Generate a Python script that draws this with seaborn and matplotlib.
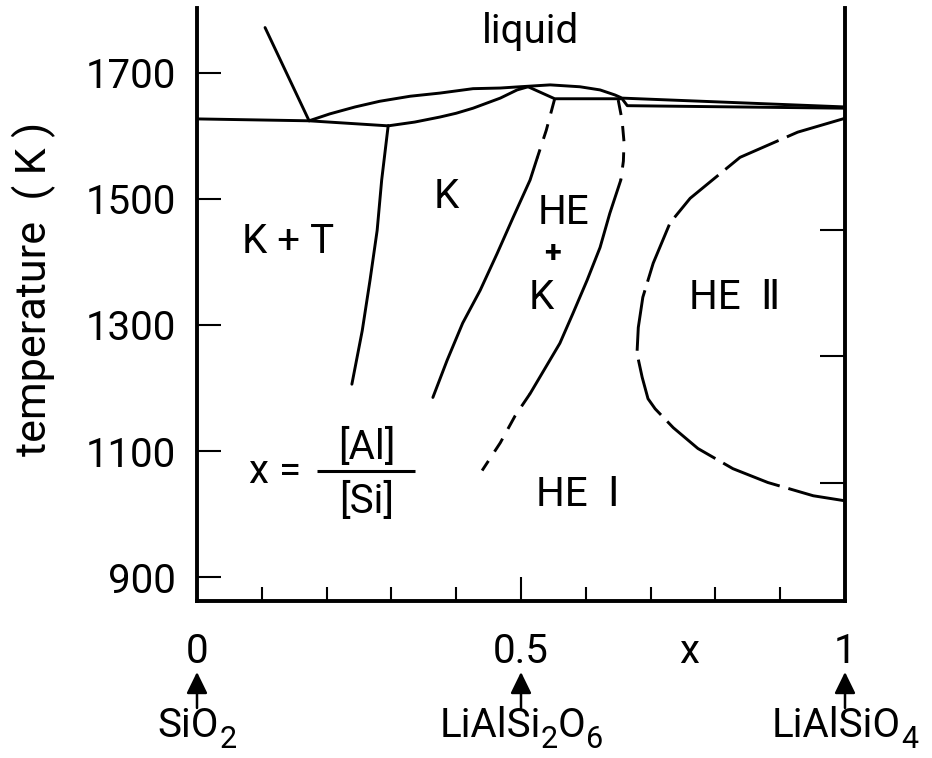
import matplotlib
matplotlib.use("Agg")
import matplotlib.pyplot as plt
from matplotlib.ticker import FixedLocator
from matplotlib.transforms import offset_copy
import pandas as pd
import seaborn as sns

# ---- phase boundaries: composition x = [Al]/[Si], temperature T in K ----
liq_left_x = [0.105, 0.173]
liq_left_t = [1772, 1624]

sol_left_x = [0.0, 0.173, 0.295]
sol_left_t = [1627, 1624, 1616]

liquidus_x = [0.173, 0.205, 0.244, 0.282, 0.329, 0.375, 0.426, 0.468, 0.498,
              0.545, 0.591, 0.622, 0.645, 0.656, 1.0]
liquidus_t = [1624, 1635, 1646, 1655, 1663, 1668, 1675, 1676, 1678,
              1681, 1678, 1673, 1665, 1660, 1646]

k_solidus_x = [0.295, 0.336, 0.375, 0.400, 0.426, 0.468, 0.494, 0.511]
k_solidus_t = [1616, 1622, 1630, 1636, 1644, 1660, 1673, 1678]

peritectic_x = [0.511, 0.552, 0.656, 0.664, 1.0]
peritectic_t = [1678, 1659, 1659, 1648, 1644]

k_kt_x = [0.295, 0.285, 0.278, 0.267, 0.255, 0.239]
k_kt_t = [1616, 1530, 1450, 1371, 1291, 1206]

k_hek_dash_x = [0.552, 0.539, 0.525]
k_hek_dash_t = [1659, 1609, 1565]
k_hek_x = [0.525, 0.514, 0.488, 0.463, 0.437, 0.410, 0.386, 0.364]
k_hek_t = [1565, 1530, 1471, 1413, 1355, 1303, 1244, 1185]

hek_he_top_x = [0.650, 0.656, 0.659, 0.658, 0.654]
hek_he_top_t = [1657, 1625, 1590, 1560, 1530]
hek_he_x = [0.654, 0.637, 0.622, 0.602, 0.580, 0.560, 0.537, 0.514]
hek_he_t = [1530, 1477, 1423, 1371, 1318, 1271, 1231, 1191]
hek_he_low_x = [0.514, 0.491, 0.468, 0.440]
hek_he_low_t = [1191, 1156, 1113, 1069]

he2_x = [1.0, 0.927, 0.838, 0.761, 0.730, 0.704, 0.688, 0.681, 0.679,
         0.687, 0.696, 0.707, 0.735, 0.773, 0.827, 0.881, 0.951, 1.0]
he2_t = [1628, 1606, 1566, 1501, 1462, 1398, 1344, 1296, 1255,
         1217, 1183, 1167, 1137, 1104, 1072, 1050, 1029, 1021]

y_ticks = [900, 1100, 1300, 1500, 1700]
y_ticks_right = [1050, 1250, 1450]
x_ticks = [0, 0.5, 1]
x_tick_labels = ["0", "0.5", "1"]
x_minor = [0.1, 0.2, 0.3, 0.4, 0.6, 0.7, 0.8, 0.9]
# chemical formulas as (text, is_subscript) pieces
compounds = [
    [("SiO", False), ("2", True)],
    [("LiAlSi", False), ("2", True), ("O", False), ("6", True)],
    [("LiAlSiO", False), ("4", True)],
]

# ---- style ----
sns.set_theme(style="white")
plt.rcParams["font.family"] = ["Roboto", "DejaVu Sans"]
plt.rcParams["lines.scale_dashes"] = False
FS = 29
SUB_FS = 22
SUB_DROP = 11  # pixels

fig = plt.figure(figsize=(9.32, 7.58), dpi=100)
ax = fig.add_axes([197 / 932, 1 - 601 / 758, 648 / 932, 593 / 758])


def boundary(x, t, dashes=None):
    df = pd.DataFrame({"x": x, "T": t})
    sns.lineplot(data=df, x="x", y="T", sort=False, estimator=None,
                 color="black", lw=2.1, ax=ax)
    ln = ax.lines[-1]
    ln.set_solid_capstyle("round")
    ln.set_solid_joinstyle("round")
    if dashes is not None:
        ln.set_dashes(dashes)
        ln.set_dash_capstyle("butt")


SHORT = (11, 8)
LONG = (44, 6.5)

boundary(liq_left_x, liq_left_t)
boundary(sol_left_x, sol_left_t)
boundary(liquidus_x, liquidus_t)
boundary(k_solidus_x, k_solidus_t)
boundary(peritectic_x, peritectic_t)
boundary(k_kt_x, k_kt_t)
boundary(k_hek_dash_x, k_hek_dash_t, SHORT)
boundary(k_hek_x, k_hek_t)
boundary(hek_he_top_x, hek_he_top_t, SHORT)
boundary(hek_he_x, hek_he_t)
boundary(hek_he_low_x, hek_he_low_t, SHORT)
boundary(he2_x, he2_t, LONG)

# ---- axes ----
ax.set_xlim(0, 1)
ax.set_ylim(862, 1803)
ax.set_xlabel("")
ax.set_xticks(x_ticks)
ax.set_xticklabels(x_tick_labels)
ax.xaxis.set_minor_locator(FixedLocator(x_minor))
ax.set_yticks(y_ticks)
ax.set_yticklabels([str(v) for v in y_ticks])
ax.yaxis.set_minor_locator(FixedLocator(y_ticks_right))

ax.tick_params(axis="x", which="major", direction="in", length=17, width=1.5,
               pad=22, labelsize=FS, colors="black", bottom=True)
ax.tick_params(axis="x", which="minor", direction="in", length=10, width=1.5,
               bottom=True, colors="black")
ax.tick_params(axis="y", which="major", direction="in", length=17, width=1.5,
               pad=15, labelsize=FS, left=True, right=False, colors="black")
ax.tick_params(axis="y", which="minor", direction="in", length=18, width=1.5,
               left=False, right=True, colors="black")

sns.despine(ax=ax, top=True, right=False)
for side in ("left", "bottom", "right"):
    ax.spines[side].set_linewidth(2.8)
    ax.spines[side].set_color("black")

ax.set_ylabel("temperature  ( K )", fontsize=31, color="black")
ax.yaxis.set_label_coords(-0.218, 0.526)

# ---- region labels ----
txt = dict(fontsize=FS, color="black", ha="center")
ax.text(0.515, 1748, "liquid", va="baseline", **txt)
ax.text(0.140, 1415, "K + T", va="baseline", **txt)
ax.text(0.384, 1485, "K", va="baseline", **txt)
ax.text(0.565, 1460, "HE", va="baseline", **txt)
ax.text(0.548, 1415, "+", va="center", fontsize=22, color="black",
        ha="center", fontweight="bold")
ax.text(0.532, 1326, "K", va="baseline", **txt)
ax.text(0.830, 1326, "HE  \u2161", va="baseline", **txt)
ax.text(0.588, 1013, "HE  \u2160", va="baseline", **txt)

# x = [Al]/[Si]
ax.text(0.120, 1050, "x =", va="baseline", **txt)
ax.plot([0.185, 0.336], [1069, 1069], color="black", lw=2.2,
        solid_capstyle="butt")
ax.text(0.262, 1088, "[Al]", va="baseline", **txt)
ax.text(0.262, 1002, "[Si]", va="baseline", **txt)

# ---- composition axis annotations ----
xt = ax.get_xaxis_transform()
ax.text(0.759, -0.1046, "x", transform=xt, va="baseline", **txt)
renderer = fig.canvas.get_renderer()
base_y = (601 - 737) / 593
for xc, pieces in zip(x_ticks, compounds):
    ax.annotate("", xy=(xc, -0.1197), xytext=(xc, -0.1804),
                xycoords=xt, textcoords=xt,
                arrowprops=dict(arrowstyle="-|>,head_length=0.45,head_width=0.22",
                                mutation_scale=29, color="black", lw=1.8,
                                shrinkA=0, shrinkB=0),
                annotation_clip=False)
    objs = []
    for s, sub in pieces:
        t = ax.text(xc, base_y, s, transform=xt, va="baseline", ha="left",
                    fontsize=SUB_FS if sub else FS, color="black",
                    clip_on=False)
        objs.append((t, sub))
    widths = [t.get_window_extent(renderer).width for t, _ in objs]
    x0 = -sum(widths) / 2
    for (t, sub), w in zip(objs, widths):
        t.set_transform(offset_copy(xt, fig=fig, x=x0,
                                    y=-SUB_DROP if sub else 0, units="dots"))
        x0 += w

fig.savefig("out.png", dpi=100, facecolor="white")
